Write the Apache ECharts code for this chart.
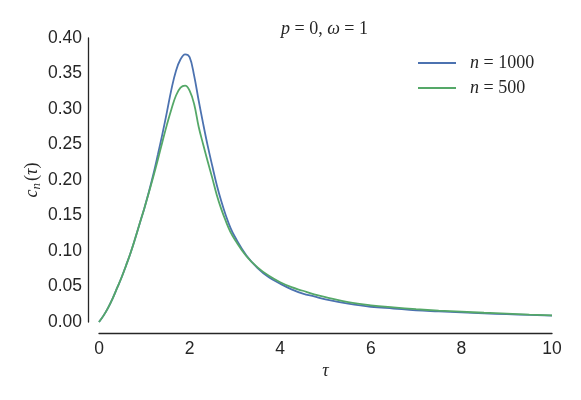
<!DOCTYPE html>
<html>
<head>
<meta charset="utf-8">
<script src="https://cdn.jsdelivr.net/npm/echarts@6/dist/echarts.min.js"></script>
<style>
  html, body { margin: 0; padding: 0; background: #fff; }
  #chart-container { width: 581px; height: 400px; }
</style>
</head>
<body>
<div id="chart-container"></div>
<script>
var tau = [
  0.0, 0.1, 0.2, 0.3, 0.4, 0.5, 0.6, 0.7, 0.8, 0.9,
  1.0, 1.1, 1.2, 1.3, 1.4, 1.5, 1.6, 1.7, 1.8, 1.9,
  2.0, 2.1, 2.2, 2.3, 2.4, 2.5, 2.6, 2.7, 2.8, 2.9,
  3.0, 3.25, 3.5, 3.75, 4.0, 4.25, 4.5, 4.75, 5.0, 5.5,
  6.0, 6.5, 7.0, 7.5, 8.0, 8.5, 9.0, 9.5, 10.0
];
var cn1000 = [
  0.000, 0.009, 0.020, 0.033, 0.048, 0.063, 0.080, 0.098, 0.118, 0.139,
  0.160, 0.183, 0.208, 0.236, 0.265, 0.296, 0.328, 0.354, 0.370, 0.377,
  0.373, 0.347, 0.312, 0.279, 0.248, 0.220, 0.193, 0.170, 0.150, 0.133,
  0.120, 0.094, 0.076, 0.063, 0.054, 0.046, 0.040, 0.036, 0.032, 0.026,
  0.0215, 0.019, 0.0165, 0.015, 0.0135, 0.0122, 0.0110, 0.0100, 0.0090
];
var cn500 = [
  0.000, 0.009, 0.020, 0.033, 0.048, 0.063, 0.080, 0.098, 0.118, 0.139,
  0.160, 0.182, 0.205, 0.229, 0.254, 0.278, 0.300, 0.319, 0.330, 0.333,
  0.326, 0.307, 0.275, 0.250, 0.226, 0.203, 0.179, 0.159, 0.142, 0.127,
  0.116, 0.093, 0.077, 0.065, 0.056, 0.049, 0.044, 0.039, 0.035, 0.028,
  0.0235, 0.0205, 0.018, 0.016, 0.0145, 0.0130, 0.0118, 0.0105, 0.0092
];
var seriesNames = ['n=1000', 'n=500'];
var seriesColors = ['#4C72B0', '#55A868'];
var yTicks = [0, 0.4, 0.05];
var xTicks = [0, 10, 2];

function pairs(xs, ys) {
  return xs.map(function (x, i) { return [x, ys[i]]; });
}

var chartDom = document.getElementById('chart-container');
var myChart = echarts.init(chartDom);

var mathFont = '"Liberation Serif", "DejaVu Serif", serif';
var ink = '#262626';

var option = {
  animation: false,
  backgroundColor: '#fff',
  color: seriesColors,
  title: {
    text: '{i|p}{r| = 0, }{i|ω}{r| = 1}',
    left: 281,
    top: 20,
    padding: 0,
    textStyle: {
      rich: {
        i: { fontFamily: mathFont, fontStyle: 'italic', fontWeight: 'normal', fontSize: 18, color: ink },
        r: { fontFamily: mathFont, fontWeight: 'normal', fontSize: 18, color: ink }
      }
    }
  },
  legend: {
    orient: 'vertical',
    left: 418,
    top: 54,
    padding: 0,
    icon: 'rect',
    itemWidth: 38,
    itemHeight: 2,
    itemGap: 7,
    data: seriesNames,
    formatter: function (name) {
      return '{i|n}{r| = ' + name.split('=')[1] + '}';
    },
    textStyle: {
      padding: [0, 0, 0, 9],
      rich: {
        i: { fontFamily: mathFont, fontStyle: 'italic', fontSize: 18, color: ink, lineHeight: 20 },
        r: { fontFamily: mathFont, fontSize: 18, color: ink, lineHeight: 20 }
      }
    }
  },
  grid: {
    left: 99,
    right: 29,
    top: 38,
    bottom: 78,
    containLabel: false,
    outerBoundsMode: 'none'
  },
  xAxis: {
    type: 'value',
    min: xTicks[0],
    max: xTicks[1],
    interval: xTicks[2],
    offset: 11,
    name: '{i|τ}',
    nameLocation: 'middle',
    nameGap: 29,
    nameMoveOverlap: false,
    nameTextStyle: {
      rich: { i: { fontFamily: mathFont, fontStyle: 'italic', fontSize: 18, color: ink } }
    },
    axisLine: { show: true, onZero: false, lineStyle: { color: ink, width: 1.3 } },
    axisTick: { show: false },
    splitLine: { show: false },
    axisLabel: {
      margin: 7,
      fontFamily: '"Liberation Sans", Arial, sans-serif',
      fontSize: 17.5,
      color: ink
    }
  },
  yAxis: {
    type: 'value',
    min: yTicks[0],
    max: yTicks[1],
    interval: yTicks[2],
    offset: 11,
    name: '{i|c}{s|n}{r|(}{i|τ}{r|)}',
    nameLocation: 'middle',
    nameRotate: 90,
    nameGap: 45,
    nameMoveOverlap: false,
    nameTextStyle: {
      rich: {
        i: { fontFamily: mathFont, fontStyle: 'italic', fontSize: 18, color: ink },
        s: { fontFamily: mathFont, fontStyle: 'italic', fontSize: 13, color: ink, padding: [9, 2, 0, 0] },
        r: { fontFamily: mathFont, fontSize: 18, color: ink }
      }
    },
    axisLine: { show: true, onZero: false, lineStyle: { color: ink, width: 1.3 } },
    axisTick: { show: false },
    splitLine: { show: false },
    axisLabel: {
      margin: 6,
      fontFamily: '"Liberation Sans", Arial, sans-serif',
      fontSize: 17.5,
      color: ink,
      formatter: function (v) { return v.toFixed(2); }
    }
  },
  series: [
    {
      name: seriesNames[0],
      type: 'line',
      data: pairs(tau, cn1000),
      showSymbol: false,
      smooth: 0.4,
      lineStyle: { width: 1.8, color: seriesColors[0] },
      itemStyle: { color: seriesColors[0] }
    },
    {
      name: seriesNames[1],
      type: 'line',
      data: pairs(tau, cn500),
      showSymbol: false,
      smooth: 0.4,
      lineStyle: { width: 1.8, color: seriesColors[1] },
      itemStyle: { color: seriesColors[1] }
    }
  ]
};

option && myChart.setOption(option);
</script>
</body>
</html>
